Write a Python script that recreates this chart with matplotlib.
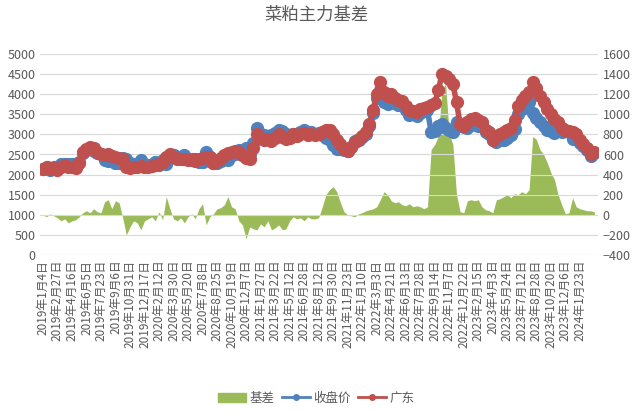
import numpy as np
import matplotlib.pyplot as plt

plt.rcParams['font.family'] = ['Noto Sans CJK SC', 'DejaVu Sans']

# 刻度标签（每4个点一个）
tick_labels = ['2019年1月4日', '2019年2月27日', '2019年4月16日', '2019年6月5日', '2019年7月23日',
               '2019年9月6日', '2019年10月31日', '2019年12月17日', '2020年2月12日', '2020年3月30日',
               '2020年5月20日', '2020年7月8日', '2020年8月25日', '2020年10月19日', '2020年12月7日',
               '2021年1月27日', '2021年3月22日', '2021年5月12日', '2021年6月28日', '2021年8月12日',
               '2021年9月30日', '2021年11月23日', '2022年1月10日', '2022年3月3日', '2022年4月21日',
               '2022年6月13日', '2022年7月28日', '2022年9月14日', '2022年11月7日', '2022年12月22日',
               '2023年2月15日', '2023年4月3日', '2023年5月24日', '2023年7月12日', '2023年8月28日',
               '2023年10月20日', '2023年12月6日', '2024年1月23日']

# 广东现货价格
guangdong = [2150, 2180, 2130, 2170, 2120, 2200, 2230, 2180, 2200, 2170,
             2300, 2560, 2640, 2680, 2650, 2560, 2520, 2490, 2500, 2460,
             2440, 2420, 2380, 2200, 2170, 2200, 2180, 2220, 2190, 2200,
             2210, 2250, 2260, 2320, 2450, 2520, 2440, 2390, 2380, 2400,
             2360, 2380, 2350, 2380, 2420, 2450, 2430, 2300, 2350, 2420,
             2480, 2540, 2560, 2580, 2550, 2480, 2420, 2400, 2650, 3000,
             2920, 2860, 2880, 2830, 2900, 3000, 2940, 2880, 2920, 3000,
             2960, 3020, 3040, 2980, 3010, 2980, 3000, 3060, 3100, 3110,
             3020, 2860, 2750, 2640, 2580, 2680, 2820, 2880, 2950, 3050,
             3250, 3600, 4000, 4300, 4050, 3950, 4000, 3900, 3850, 3820,
             3700, 3600, 3580, 3560, 3620, 3650, 3680, 3720, 3780, 4100,
             4500, 4450, 4380, 4250, 3800, 3250, 3200, 3300, 3380, 3400,
             3350, 3300, 3120, 3050, 2870, 2950, 3020, 3050, 3100, 3150,
             3350, 3700, 3850, 3950, 4050, 4300, 4150, 3950, 3800, 3620,
             3500, 3380, 3300, 3150, 3100, 3080, 3060, 3000, 2850, 2760,
             2650, 2500, 2560]

# 主力合约收盘价
close = [2150, 2200, 2120, 2180, 2150, 2260, 2270, 2260, 2260, 2220,
         2320, 2540, 2600, 2660, 2590, 2530, 2500, 2360, 2350, 2400,
         2300, 2300, 2410, 2400, 2290, 2260, 2260, 2370, 2250, 2240,
         2230, 2310, 2230, 2370, 2270, 2460, 2480, 2450, 2410, 2480,
         2380, 2370, 2390, 2320, 2310, 2550, 2450, 2290, 2290, 2350,
         2380, 2360, 2480, 2520, 2610, 2580, 2660, 2520, 2790, 3150,
         3010, 2980, 2940, 2980, 3030, 3100, 3090, 3020, 2980, 3020,
         3000, 3050, 3100, 3000, 3050, 3020, 3030, 2980, 2900, 2860,
         2740, 2630, 2630, 2610, 2580, 2690, 2840, 2870, 2930, 3010,
         3200, 3540, 3900, 4100, 3800, 3750, 3860, 3780, 3720, 3720,
         3610, 3490, 3500, 3470, 3540, 3590, 3600, 3070, 3080, 3200,
         3250, 3150, 3100, 3050, 3300, 3220, 3180, 3160, 3230, 3260,
         3200, 3220, 3070, 3010, 2850, 2800, 2860, 2870, 2900, 2980,
         3140, 3500, 3620, 3740, 3800, 3520, 3400, 3300, 3200, 3100,
         3080, 3030, 3100, 3050, 3090, 3060, 2890, 2920, 2790, 2710,
         2610, 2460, 2530]

# 基差（右轴）
basis = [0, -20, 10, -10, -30, -60, -40, -80, -60, -50,
         -20, 20, 40, 20, 60, 30, 20, 130, 150, 60,
         140, 120, -30, -200, -120, -60, -80, -150, -60, -40,
         -20, -60, 30, -50, 180, 60, -40, -60, -30, -80,
         -20, 10, -40, 60, 110, -100, -20, 10, 60, 70,
         100, 180, 80, 60, -60, -100, -240, -120, -140, -150,
         -90, -120, -60, -150, -130, -100, -150, -140, -60, -20,
         -40, -30, -60, -20, -40, -40, -30, 80, 200, 250,
         280, 230, 120, 30, 0, -10, -20, 10, 20, 40,
         50, 60, 80, 150, 230, 200, 140, 120, 130, 100,
         90, 110, 80, 90, 80, 60, 80, 650, 700, 780,
         1250, 1300, 800, 700, 200, 30, 20, 140, 150, 140,
         150, 80, 50, 40, 20, 150, 160, 180, 200, 170,
         210, 200, 230, 210, 250, 780, 750, 650, 600, 520,
         420, 350, 200, 100, 10, 20, 170, 80, 60, 50,
         40, 40, 30]

x = np.arange(len(guangdong))
green = '#9BBB59'
blue = '#4F81BD'
red = '#C0504D'
txt = '#595959'

fig = plt.figure(figsize=(6.33, 4.12), dpi=100)
ax = fig.add_axes([40 / 633, 1 - 255 / 412, 558 / 633, 201 / 412])
ax2 = ax.twinx()

# 基差面积放在右轴，线画在左轴上层
ax2.fill_between(x, 0, basis, color=green, linewidth=0, zorder=1)
ax2.set_zorder(1)
ax.set_zorder(2)
ax.patch.set_visible(False)

ax.plot(x, close, color=blue, linewidth=4, marker='o', markersize=8.5, zorder=3)
ax.plot(x, guangdong, color=red, linewidth=4, marker='o', markersize=8.5, zorder=4)

ax.set_ylim(0, 5000)
ax.set_yticks(np.arange(0, 5001, 500))
ax2.set_ylim(-400, 1600)
ax2.set_yticks(np.arange(-400, 1601, 200))
ax.set_xlim(-0.8, 153)
ax.set_xticks(np.arange(0, len(tick_labels) * 4, 4))
ax.set_xticklabels(tick_labels, rotation=90, fontsize=8.5, color=txt)

for a in (ax, ax2):
    for s in a.spines.values():
        s.set_visible(False)
    a.tick_params(length=0, labelsize=9, labelcolor=txt)
ax.tick_params(axis='x', labelsize=8.5)
ax.tick_params(axis='y', pad=3)
ax.grid(axis='y', color='#D9D9D9', linewidth=0.8)
ax.set_axisbelow(True)

fig.suptitle('菜粕主力基差', y=0.963, va='center', fontsize=12.5, color=txt)

handles = [plt.Rectangle((0, 0), 1, 1, color=green),
           plt.Line2D([], [], color=blue, linewidth=2, marker='o', markersize=4),
           plt.Line2D([], [], color=red, linewidth=2, marker='o', markersize=4)]
fig.legend(handles, ['基差', '收盘价', '广东'], loc='lower center', bbox_to_anchor=(0.5, -0.01),
           ncol=3, frameon=False, fontsize=9, handlelength=2.2, columnspacing=0.6,
           handletextpad=0.3, labelcolor=txt)

fig.savefig('out.png', dpi=100)
